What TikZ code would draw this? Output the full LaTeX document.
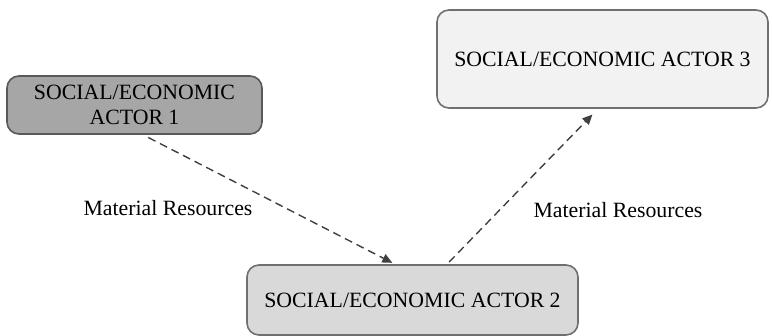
\documentclass[tikz,border=0pt]{standalone}
\usepackage{fontspec}
\setmainfont{Liberation Serif}
\usepackage{xcolor}
\usetikzlibrary{arrows.meta, positioning, calc}

\definecolor{actdark}{HTML}{A6A6A6}
\definecolor{actmid}{HTML}{D9D9D9}
\definecolor{actlight}{HTML}{F2F2F2}
\definecolor{edgegray}{HTML}{707070}

\tikzset{
    actor/.style={draw=edgegray, line width=0.8pt, rounded corners=6pt, align=center,
        font=\fontsize{10.9}{12.8}\selectfont, inner sep=0pt},
    flow/.style={-{Triangle[length=5pt, width=4.5pt]}, dashed, dash pattern=on 4pt off 2.5pt,
        line width=0.7pt, draw=black!75},
    lbl/.style={font=\fontsize{10.9}{12.8}\selectfont}
}

\begin{document}
\begin{tikzpicture}[x=0.5pt, y=-0.5pt]
    \useasboundingbox (0, 0) rectangle (772, 336);

    \node[actor, fill=actdark, draw=black!65, minimum width=127.5pt, minimum height=29pt] (act1) at (134.5, 105) {SOCIAL/ECONOMIC\\ACTOR 1};
    \node[actor, fill=actlight, minimum width=165.5pt, minimum height=49pt] (act3) at (602.5, 59) {SOCIAL/ECONOMIC ACTOR 3};
    \node[actor, fill=actmid, minimum width=165.5pt, minimum height=35pt] (act2) at (412.5, 300) {SOCIAL/ECONOMIC ACTOR 2};

    \draw[flow, shorten <=3pt, shorten >=1.5pt] ([xshift=4.25pt]act1.south) -- ([xshift=-8.75pt]act2.north);
    \draw[flow, shorten <=1.5pt, shorten >=4pt] ([xshift=17.25pt]act2.north) -- ([xshift=-2.25pt]act3.south);

    \node[lbl] (res1) at (168, 208) {Material Resources};
    \node[lbl] (res2) at (618, 210) {Material Resources};
\end{tikzpicture}
\end{document}
